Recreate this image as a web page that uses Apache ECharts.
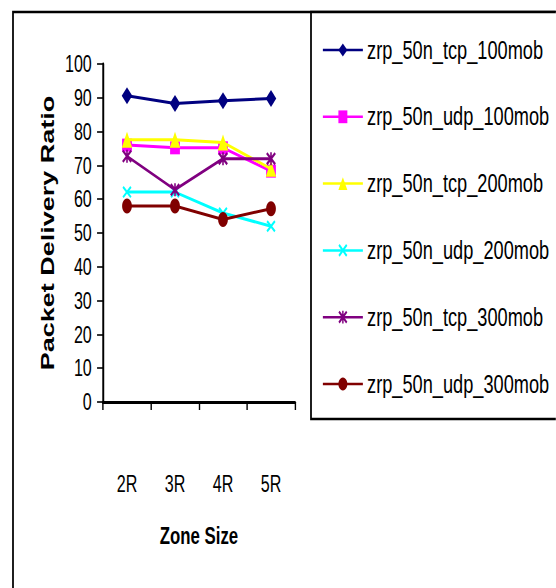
<!DOCTYPE html>
<html>
<head>
<meta charset="utf-8">
<script src="https://cdn.jsdelivr.net/npm/echarts@6/dist/echarts.min.js"></script>
<style>
  html, body { margin: 0; padding: 0; background: #fff; overflow: hidden; }
  /* the figure is drawn on a wider canvas and narrowed horizontally */
  #chart { width: 794.29px; height: 588px; transform: scaleX(0.7); transform-origin: 0 0; }
</style>
</head>
<body>
<div id="chart"></div>
<script>
// Zone sizes on the x axis
const zoneSizes = ['2R', '3R', '4R', '5R'];

// Packet delivery ratio per configuration
const seriesNames = [
  'zrp_50n_tcp_100mob',
  'zrp_50n_udp_100mob',
  'zrp_50n_tcp_200mob',
  'zrp_50n_udp_200mob',
  'zrp_50n_tcp_300mob',
  'zrp_50n_udp_300mob'
];
const tcp100 = [90.6, 88.3, 89.1, 89.8];
const udp100 = [76.0, 75.2, 75.2, 68.3];
const tcp200 = [77.6, 77.6, 76.8, 69.0];
const udp200 = [62.1, 62.1, 55.9, 52.0];
const tcp300 = [72.7, 62.8, 72.0, 72.0];
const udp300 = [58.0, 58.0, 54.0, 57.2];

const yTicks = { min: 0, max: 100, interval: 10 };

// horizontal squeeze applied to the container
const SX = 0.7;
const px = v => v / SX;

const FONT = 'Liberation Sans, Arial, sans-serif';

// filled marker shapes for the cross and star points
const crossPath = 'path://M0,1.4L1.4,0L10,8.6L8.6,10ZM8.6,0L10,1.4L1.4,10L0,8.6Z';
const starPath = 'path://M0,1.4L1.4,0L10,8.6L8.6,10ZM8.6,0L10,1.4L1.4,10L0,8.6ZM4.2,0L5.8,0L5.8,10L4.2,10Z';

const styles = [
  { color: '#000080', symbol: 'diamond', size: [15, 17] },
  { color: '#FF00FF', symbol: 'rect', size: [14, 13] },
  { color: '#FFFF00', symbol: 'triangle', size: [15, 16] },
  { color: '#00FFFF', symbol: crossPath, size: [13, 12] },
  { color: '#800080', symbol: starPath, size: [14, 13] },
  { color: '#800000', symbol: 'circle', size: [14, 15] }
];
const values = [tcp100, udp100, tcp200, udp200, tcp300, udp300];

const gridLeft = px(103);
const gridRight = px(295);
const gridTop = 64;
const gridBottom = 402;

const chart = echarts.init(document.getElementById('chart'), null, { renderer: 'svg' });

chart.setOption({
  animation: false,
  backgroundColor: '#fff',
  graphic: [
    {
      type: 'rect', z: 0,
      shape: { x: px(13), y: 12, width: 900, height: 700 },
      style: { fill: 'none', stroke: '#000', lineWidth: 2.5 }
    },
    {
      type: 'rect', z: 1,
      shape: { x: px(311), y: 12, width: 600, height: 407 },
      style: { fill: '#fff', stroke: '#000', lineWidth: 2.5 }
    }
  ],
  grid: {
    left: gridLeft,
    top: gridTop,
    width: gridRight - gridLeft,
    height: gridBottom - gridTop,
    containLabel: false
  },
  legend: {
    orient: 'vertical',
    left: px(322),
    top: 37,
    padding: 0,
    itemGap: 40.8,
    itemWidth: px(40),
    itemHeight: 16,
    itemStyle: { borderWidth: 0 },
    lineStyle: { width: 2.5 },
    textStyle: { fontFamily: FONT, fontSize: 26, lineHeight: 26, color: '#000', padding: [0, 0, 0, 1] },
    data: seriesNames
  },
  xAxis: {
    type: 'category',
    data: zoneSizes,
    boundaryGap: true,
    name: 'Zone Size',
    nameLocation: 'middle',
    nameGap: 121,
    nameTextStyle: { fontFamily: FONT, fontSize: 24, fontWeight: 'bold', color: '#000' },
    axisLine: { lineStyle: { color: '#000', width: 3 } },
    axisTick: { show: true, inside: false, length: 8, alignWithLabel: false, lineStyle: { color: '#000', width: 2 } },
    axisLabel: { fontFamily: FONT, fontSize: 23, color: '#000', margin: 70 },
    splitLine: { show: false }
  },
  yAxis: {
    type: 'value',
    min: yTicks.min,
    max: yTicks.max,
    interval: yTicks.interval,
    name: 'Packet Delivery Ratio',
    nameLocation: 'middle',
    nameRotate: 90,
    nameGap: 66,
    nameTextStyle: { fontFamily: FONT, fontSize: 27, fontWeight: 'bold', color: '#000' },
    axisLine: { show: true, lineStyle: { color: '#000', width: 2.8 } },
    axisTick: { show: true, inside: false, length: 8.5, lineStyle: { color: '#000', width: 1.6 } },
    axisLabel: { fontFamily: FONT, fontSize: 23, color: '#000', margin: 16 },
    splitLine: { show: false }
  },
  series: seriesNames.map((name, i) => ({
    name,
    type: 'line',
    data: values[i],
    symbol: styles[i].symbol,
    symbolSize: styles[i].size,
    showAllSymbol: true,
    color: styles[i].color,
    lineStyle: { width: 3, color: styles[i].color },
    itemStyle: { color: styles[i].color, borderWidth: 0 },
    z: 2 + i
  }))
});
</script>
</body>
</html>
